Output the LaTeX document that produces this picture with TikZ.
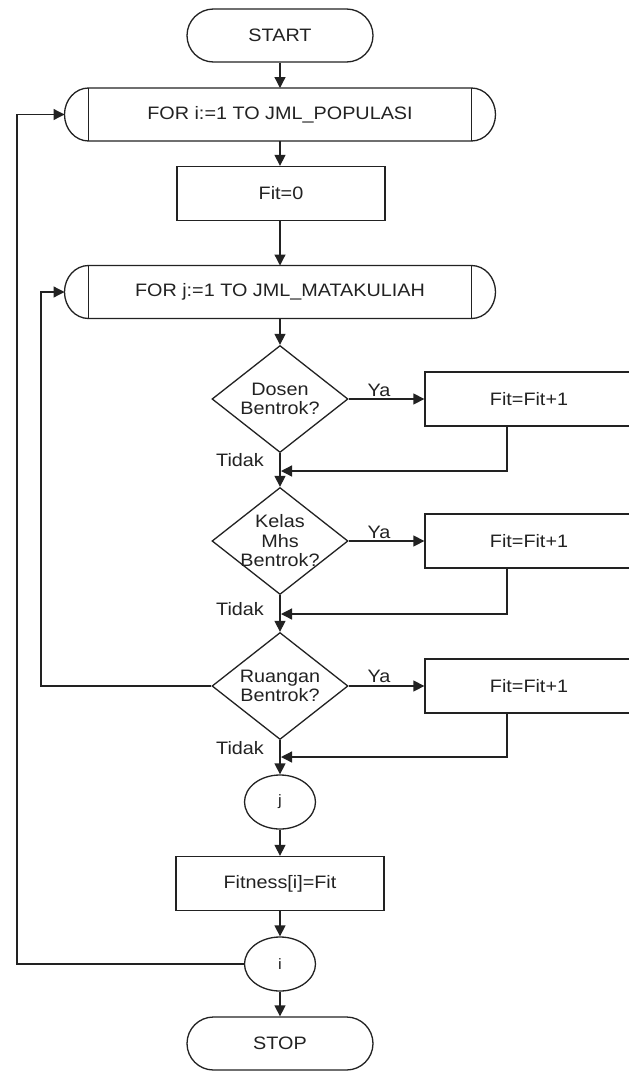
\documentclass[tikz,border=0pt]{standalone}
\usepackage{fontspec}
\setmainfont{Liberation Sans}[FakeStretch=1.1]
\usetikzlibrary{shapes.geometric,arrows.meta,calc}
\definecolor{ink}{HTML}{222222}
\tikzset{
 ln/.style={draw=ink, line width=1.3pt},
 arr/.style={ln, -{Triangle[length=11pt,width=11pt]}},
 txt/.style={font=\fontsize{18}{19.5}\selectfont, text=ink, inner sep=0pt, align=center},
 term/.style={ln, txt, rounded corners=26.5pt, minimum width=186pt, minimum height=53pt},
 proc/.style={ln, txt, minimum width=208pt, minimum height=54pt},
 dia/.style={ln, diamond, inner sep=0pt, minimum width=136pt, minimum height=107pt},
 conn/.style={ln, ellipse, inner sep=0pt, minimum width=71pt, minimum height=54pt, font=\fontsize{15}{16}\selectfont, text=ink},
 loopbox/.style={txt, outer sep=0pt, minimum width=431pt, minimum height=53pt},
 lbl/.style={txt},
}
\begin{document}
\begin{tikzpicture}[x=1pt,y=1pt]
\path[use as bounding box, fill=white] (0,0) rectangle (629,-1071);
\clip (0,0) rectangle (629,-1071);
% nodes
\node[term] (start) at (280,-35.5) {START};
\node[loopbox] (fi) at (280,-114.5) {FOR i:=1 TO JML\_POPULASI};
\node[proc] (f0) at (281,-193.5) {Fit=0};
\node[loopbox] (fj) at (280,-292) {FOR j:=1 TO JML\_MATAKULIAH};
\node[dia] (d1) at (280,-399) {};
\node[txt] (t1) at (d1) {Dosen\\Bentrok?};
\node[proc] (b1) at (529,-399) {Fit=Fit+1};
\node[dia] (d2) at (280,-541) {};
\node[txt] (t2) at (d2) {Kelas\\Mhs\\Bentrok?};
\node[proc] (b2) at (529,-541) {Fit=Fit+1};
\node[dia] (d3) at (280,-686) {};
\node[txt] (t3) at (d3) {Ruangan\\Bentrok?};
\node[proc] (b3) at (529,-686) {Fit=Fit+1};
\node[conn] (cj) at (280,-802) {j};
\node[proc] (fit) at (280,-883.5) {Fitness[i]=Fit};
\node[conn] (ci) at (280,-964) {i};
\node[term] (stop) at (280,-1043.5) {STOP};
% loop shapes
\foreach \n in {fi,fj}{
 \draw[ln] ($(\n.north west)+(24,0)$) -- ($(\n.north east)+(-24,0)$)
   arc[start angle=90,end angle=-90,x radius=24pt,y radius=26.5pt]
   -- ($(\n.south west)+(24,0)$)
   arc[start angle=270,end angle=90,x radius=24pt,y radius=26.5pt] -- cycle;
 \draw[ln] ($(\n.north west)+(24,0)$) -- ($(\n.south west)+(24,0)$);
 \draw[ln] ($(\n.north east)+(-24,0)$) -- ($(\n.south east)+(-24,0)$);
}
% labels
\node[lbl] (y1) at (379,-390) {Ya};
\node[lbl] (y2) at (379,-532) {Ya};
\node[lbl] (y3) at (379,-676) {Ya};
\node[lbl] (n1) at (240,-460) {Tidak};
\node[lbl] (n2) at (240,-609) {Tidak};
\node[lbl] (n3) at (240,-748) {Tidak};
% coordinates
\coordinate (m1) at (281,-471);
\coordinate (m2) at (281,-614);
\coordinate (m3) at (281,-757);
\coordinate (jl) at (41,-686);
\coordinate (il) at (17,-964);
% connectors
\draw[arr] (start.south) -- (fi.north);
\draw[arr] (fi.south) -- (f0.north -| fi.south);
\draw[arr] (f0.south -| fi.south) -- (fj.north);
\draw[arr] (fj.south) -- (d1.north);
\draw[arr] (d1.east) -- (b1.west);
\draw[arr] (d1.south) -- (d2.north);
\draw[arr] ($(b1.south)+(-22,0)$) |- (m1);
\draw[arr] (d2.east) -- (b2.west);
\draw[arr] (d2.south) -- (d3.north);
\draw[arr] ($(b2.south)+(-22,0)$) |- (m2);
\draw[arr] (d3.east) -- (b3.west);
\draw[arr] (d3.south) -- (cj.north);
\draw[arr] ($(b3.south)+(-22,0)$) |- (m3);
\draw[arr] (cj.south) -- (fit.north);
\draw[arr] (fit.south) -- (ci.north);
\draw[arr] (ci.south) -- (stop.north);
\draw[arr] (d3.west) -- (jl) |- (fj.west);
\draw[arr] (ci.west) -- (il) |- (fi.west);
\end{tikzpicture}
\end{document}
